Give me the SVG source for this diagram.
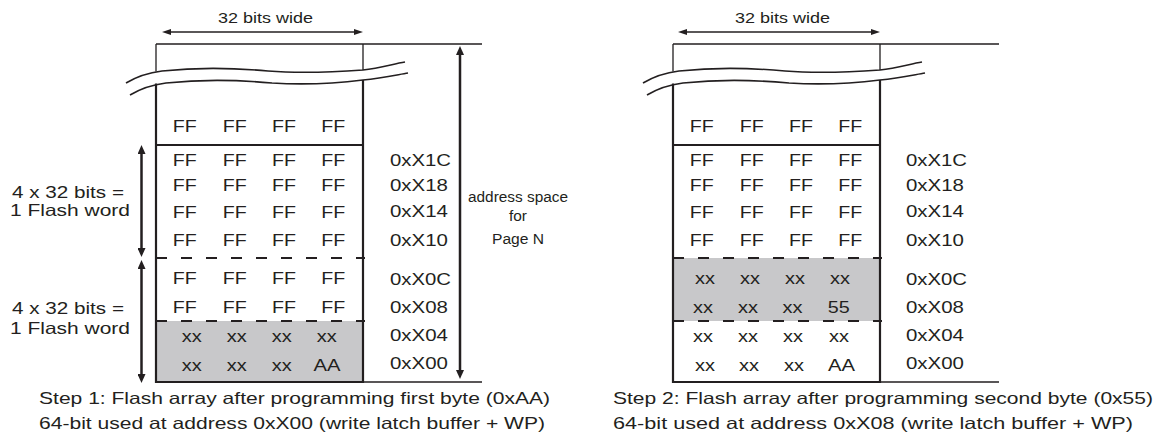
<svg xmlns="http://www.w3.org/2000/svg" width="1168" height="442" viewBox="0 0 1168 442">
<style>
.t{font-family:"Liberation Sans",Arial,sans-serif;font-size:16.5px;fill:#231f20}
.s{font-size:15px}
.a{font-size:14px}
.thin{fill:none;stroke:#231f20;stroke-width:1.3}
.thick{fill:none;stroke:#231f20;stroke-width:2.2}
.dash{fill:none;stroke:#231f20;stroke-width:2;stroke-dasharray:11 14}
.curve{fill:none;stroke:#231f20;stroke-width:1.6}
.shade{fill:#c8c8ca}
.arr{fill:none;stroke:#231f20;stroke-width:2.5}
.arrs{fill:none;stroke:#231f20;stroke-width:1.5}
</style>
<defs>
<marker id="ahb" markerWidth="9" markerHeight="8" refX="4" refY="4" orient="auto-start-reverse" markerUnits="userSpaceOnUse"><path d="M0,0 L9,4 L0,8 z" fill="#231f20"/></marker>
<marker id="ahs" markerWidth="9" markerHeight="6" refX="5" refY="3" orient="auto-start-reverse" markerUnits="userSpaceOnUse"><path d="M0,0 L9,3 L0,6 z" fill="#231f20"/></marker>
<g id="frame">
<path class="thin" d="M156,44 H482 M156,44 V71.5 M363,44 V70 M363,382 H482"/>
<path class="thick" d="M156,83.5 V382 H363 V80 M156,145 H363"/>
<path class="dash" d="M156,258 H365 M156,321 H365"/>
<path class="curve" d="M126,83 C136,77 146,73 162,71 C200,67 235,68 268,71 C300,73.5 335,72 363,70 C380,68 393,64 405,62"/>
<path class="curve" d="M130,95 C140,89 150,85 166,83 C204,79 239,80 272,83 C304,85 339,83 363,80 C382,78 396,75 408,73"/>
</g>
</defs>

<g id="panel1">
<rect class="shade" x="156" y="321" width="207" height="61"/>
<use href="#frame"/>
<g id="p1-cells" class="t">
<text x="172.7" y="131.5" textLength="24" lengthAdjust="spacingAndGlyphs">FF</text><text x="222.7" y="131.5" textLength="24" lengthAdjust="spacingAndGlyphs">FF</text><text x="272" y="131.5" textLength="24" lengthAdjust="spacingAndGlyphs">FF</text><text x="321.3" y="131.5" textLength="24" lengthAdjust="spacingAndGlyphs">FF</text>
<text x="172.7" y="166" textLength="24" lengthAdjust="spacingAndGlyphs">FF</text><text x="222.7" y="166" textLength="24" lengthAdjust="spacingAndGlyphs">FF</text><text x="272" y="166" textLength="24" lengthAdjust="spacingAndGlyphs">FF</text><text x="321.3" y="166" textLength="24" lengthAdjust="spacingAndGlyphs">FF</text>
<text x="172.7" y="191" textLength="24" lengthAdjust="spacingAndGlyphs">FF</text><text x="222.7" y="191" textLength="24" lengthAdjust="spacingAndGlyphs">FF</text><text x="272" y="191" textLength="24" lengthAdjust="spacingAndGlyphs">FF</text><text x="321.3" y="191" textLength="24" lengthAdjust="spacingAndGlyphs">FF</text>
<text x="172.7" y="217.5" textLength="24" lengthAdjust="spacingAndGlyphs">FF</text><text x="222.7" y="217.5" textLength="24" lengthAdjust="spacingAndGlyphs">FF</text><text x="272" y="217.5" textLength="24" lengthAdjust="spacingAndGlyphs">FF</text><text x="321.3" y="217.5" textLength="24" lengthAdjust="spacingAndGlyphs">FF</text>
<text x="172.7" y="245.5" textLength="24" lengthAdjust="spacingAndGlyphs">FF</text><text x="222.7" y="245.5" textLength="24" lengthAdjust="spacingAndGlyphs">FF</text><text x="272" y="245.5" textLength="24" lengthAdjust="spacingAndGlyphs">FF</text><text x="321.3" y="245.5" textLength="24" lengthAdjust="spacingAndGlyphs">FF</text>
<text x="172.7" y="283.5" textLength="24" lengthAdjust="spacingAndGlyphs">FF</text><text x="222.7" y="283.5" textLength="24" lengthAdjust="spacingAndGlyphs">FF</text><text x="272" y="283.5" textLength="24" lengthAdjust="spacingAndGlyphs">FF</text><text x="321.3" y="283.5" textLength="24" lengthAdjust="spacingAndGlyphs">FF</text>
<text x="172.7" y="312.5" textLength="24" lengthAdjust="spacingAndGlyphs">FF</text><text x="222.7" y="312.5" textLength="24" lengthAdjust="spacingAndGlyphs">FF</text><text x="272" y="312.5" textLength="24" lengthAdjust="spacingAndGlyphs">FF</text><text x="321.3" y="312.5" textLength="24" lengthAdjust="spacingAndGlyphs">FF</text>
<text x="181.7" y="342" textLength="20" lengthAdjust="spacingAndGlyphs">xx</text><text x="226.7" y="342" textLength="20" lengthAdjust="spacingAndGlyphs">xx</text><text x="271.7" y="342" textLength="20" lengthAdjust="spacingAndGlyphs">xx</text><text x="316.7" y="342" textLength="20" lengthAdjust="spacingAndGlyphs">xx</text>
<text x="181.7" y="371" textLength="20" lengthAdjust="spacingAndGlyphs">xx</text><text x="226.7" y="371" textLength="20" lengthAdjust="spacingAndGlyphs">xx</text><text x="271.7" y="371" textLength="20" lengthAdjust="spacingAndGlyphs">xx</text><text x="313.5" y="371" textLength="27" lengthAdjust="spacingAndGlyphs">AA</text>
</g>
<g id="p1-addr" class="t">
<text x="390" y="165.5" textLength="61" lengthAdjust="spacingAndGlyphs">0xX1C</text>
<text x="390" y="190.5" textLength="58" lengthAdjust="spacingAndGlyphs">0xX18</text>
<text x="390" y="217" textLength="58" lengthAdjust="spacingAndGlyphs">0xX14</text>
<text x="390" y="245.5" textLength="58" lengthAdjust="spacingAndGlyphs">0xX10</text>
<text x="390" y="284.5" textLength="61" lengthAdjust="spacingAndGlyphs">0xX0C</text>
<text x="390" y="313" textLength="58" lengthAdjust="spacingAndGlyphs">0xX08</text>
<text x="390" y="341" textLength="58" lengthAdjust="spacingAndGlyphs">0xX04</text>
<text x="390" y="369" textLength="58" lengthAdjust="spacingAndGlyphs">0xX00</text>
</g>
<g id="p1-labels" class="t">
<text class="t s" x="218" y="23" textLength="95" lengthAdjust="spacingAndGlyphs">32 bits wide</text>
<text x="12" y="197.5" textLength="112" lengthAdjust="spacingAndGlyphs">4 x 32 bits =</text>
<text x="10" y="215.5" textLength="120" lengthAdjust="spacingAndGlyphs">1 Flash word</text>
<text x="12" y="313.5" textLength="112" lengthAdjust="spacingAndGlyphs">4 x 32 bits =</text>
<text x="10" y="333.5" textLength="120" lengthAdjust="spacingAndGlyphs">1 Flash word</text>
<text class="t a" x="468" y="202" textLength="100" lengthAdjust="spacingAndGlyphs">address space</text>
<text class="t a" x="509" y="221" textLength="18" lengthAdjust="spacingAndGlyphs">for</text>
<text class="t a" x="492" y="244" textLength="52" lengthAdjust="spacingAndGlyphs">Page N</text>
<text x="39" y="403.5" textLength="511" lengthAdjust="spacingAndGlyphs">Step 1: Flash array after programming first byte (0xAA)</text>
<text x="39" y="428.5" textLength="506" lengthAdjust="spacingAndGlyphs">64-bit used at address 0xX00 (write latch buffer + WP)</text>
</g>
</g>

<g id="panel2">
<rect class="shade" x="673" y="258" width="207" height="63"/>
<use href="#frame" transform="translate(517,0)"/>
<g id="p2-cells" class="t">
<text x="689.7" y="131.5" textLength="24" lengthAdjust="spacingAndGlyphs">FF</text><text x="739.7" y="131.5" textLength="24" lengthAdjust="spacingAndGlyphs">FF</text><text x="789" y="131.5" textLength="24" lengthAdjust="spacingAndGlyphs">FF</text><text x="838.3" y="131.5" textLength="24" lengthAdjust="spacingAndGlyphs">FF</text>
<text x="689.7" y="166" textLength="24" lengthAdjust="spacingAndGlyphs">FF</text><text x="739.7" y="166" textLength="24" lengthAdjust="spacingAndGlyphs">FF</text><text x="789" y="166" textLength="24" lengthAdjust="spacingAndGlyphs">FF</text><text x="838.3" y="166" textLength="24" lengthAdjust="spacingAndGlyphs">FF</text>
<text x="689.7" y="191" textLength="24" lengthAdjust="spacingAndGlyphs">FF</text><text x="739.7" y="191" textLength="24" lengthAdjust="spacingAndGlyphs">FF</text><text x="789" y="191" textLength="24" lengthAdjust="spacingAndGlyphs">FF</text><text x="838.3" y="191" textLength="24" lengthAdjust="spacingAndGlyphs">FF</text>
<text x="689.7" y="217.5" textLength="24" lengthAdjust="spacingAndGlyphs">FF</text><text x="739.7" y="217.5" textLength="24" lengthAdjust="spacingAndGlyphs">FF</text><text x="789" y="217.5" textLength="24" lengthAdjust="spacingAndGlyphs">FF</text><text x="838.3" y="217.5" textLength="24" lengthAdjust="spacingAndGlyphs">FF</text>
<text x="689.7" y="245.5" textLength="24" lengthAdjust="spacingAndGlyphs">FF</text><text x="739.7" y="245.5" textLength="24" lengthAdjust="spacingAndGlyphs">FF</text><text x="789" y="245.5" textLength="24" lengthAdjust="spacingAndGlyphs">FF</text><text x="838.3" y="245.5" textLength="24" lengthAdjust="spacingAndGlyphs">FF</text>
<text x="695" y="283.5" textLength="20" lengthAdjust="spacingAndGlyphs">xx</text><text x="740" y="283.5" textLength="20" lengthAdjust="spacingAndGlyphs">xx</text><text x="785" y="283.5" textLength="20" lengthAdjust="spacingAndGlyphs">xx</text><text x="830" y="283.5" textLength="20" lengthAdjust="spacingAndGlyphs">xx</text>
<text x="693" y="312.5" textLength="20" lengthAdjust="spacingAndGlyphs">xx</text><text x="738" y="312.5" textLength="20" lengthAdjust="spacingAndGlyphs">xx</text><text x="782.6" y="312.5" textLength="20" lengthAdjust="spacingAndGlyphs">xx</text><text x="827.8" y="312.5" textLength="22" lengthAdjust="spacingAndGlyphs">55</text>
<text x="693" y="342" textLength="20" lengthAdjust="spacingAndGlyphs">xx</text><text x="738" y="342" textLength="20" lengthAdjust="spacingAndGlyphs">xx</text><text x="783" y="342" textLength="20" lengthAdjust="spacingAndGlyphs">xx</text><text x="829" y="342" textLength="20" lengthAdjust="spacingAndGlyphs">xx</text>
<text x="695" y="371" textLength="20" lengthAdjust="spacingAndGlyphs">xx</text><text x="739" y="371" textLength="20" lengthAdjust="spacingAndGlyphs">xx</text><text x="784" y="371" textLength="20" lengthAdjust="spacingAndGlyphs">xx</text><text x="828" y="371" textLength="27" lengthAdjust="spacingAndGlyphs">AA</text>
</g>
<g id="p2-addr" class="t">
<text x="906" y="165.5" textLength="61" lengthAdjust="spacingAndGlyphs">0xX1C</text>
<text x="906" y="190.5" textLength="58" lengthAdjust="spacingAndGlyphs">0xX18</text>
<text x="906" y="217" textLength="58" lengthAdjust="spacingAndGlyphs">0xX14</text>
<text x="906" y="245.5" textLength="58" lengthAdjust="spacingAndGlyphs">0xX10</text>
<text x="906" y="284.5" textLength="61" lengthAdjust="spacingAndGlyphs">0xX0C</text>
<text x="906" y="313" textLength="58" lengthAdjust="spacingAndGlyphs">0xX08</text>
<text x="906" y="341" textLength="58" lengthAdjust="spacingAndGlyphs">0xX04</text>
<text x="906" y="369" textLength="58" lengthAdjust="spacingAndGlyphs">0xX00</text>
</g>
<g id="p2-labels" class="t">
<text class="t s" x="735" y="23" textLength="95" lengthAdjust="spacingAndGlyphs">32 bits wide</text>
<text x="613" y="403.5" textLength="540" lengthAdjust="spacingAndGlyphs">Step 2: Flash array after programming second byte (0x55)</text>
<text x="613" y="428.5" textLength="520" lengthAdjust="spacingAndGlyphs">64-bit used at address 0xX08 (write latch buffer + WP)</text>
</g>
</g>

<g id="connectors">
<line class="arrs" x1="166" y1="32" x2="359" y2="32" marker-start="url(#ahs)" marker-end="url(#ahs)"/>
<line class="arrs" x1="682" y1="32" x2="876" y2="32" marker-start="url(#ahs)" marker-end="url(#ahs)"/>
<line class="arr" x1="460" y1="51" x2="460" y2="374" marker-start="url(#ahb)" marker-end="url(#ahb)"/>
<line class="arr" x1="141.5" y1="150" x2="141.5" y2="252" marker-start="url(#ahb)" marker-end="url(#ahb)"/>
<line class="arr" x1="141.5" y1="265" x2="141.5" y2="378" marker-start="url(#ahb)" marker-end="url(#ahb)"/>
</g>
</svg>
